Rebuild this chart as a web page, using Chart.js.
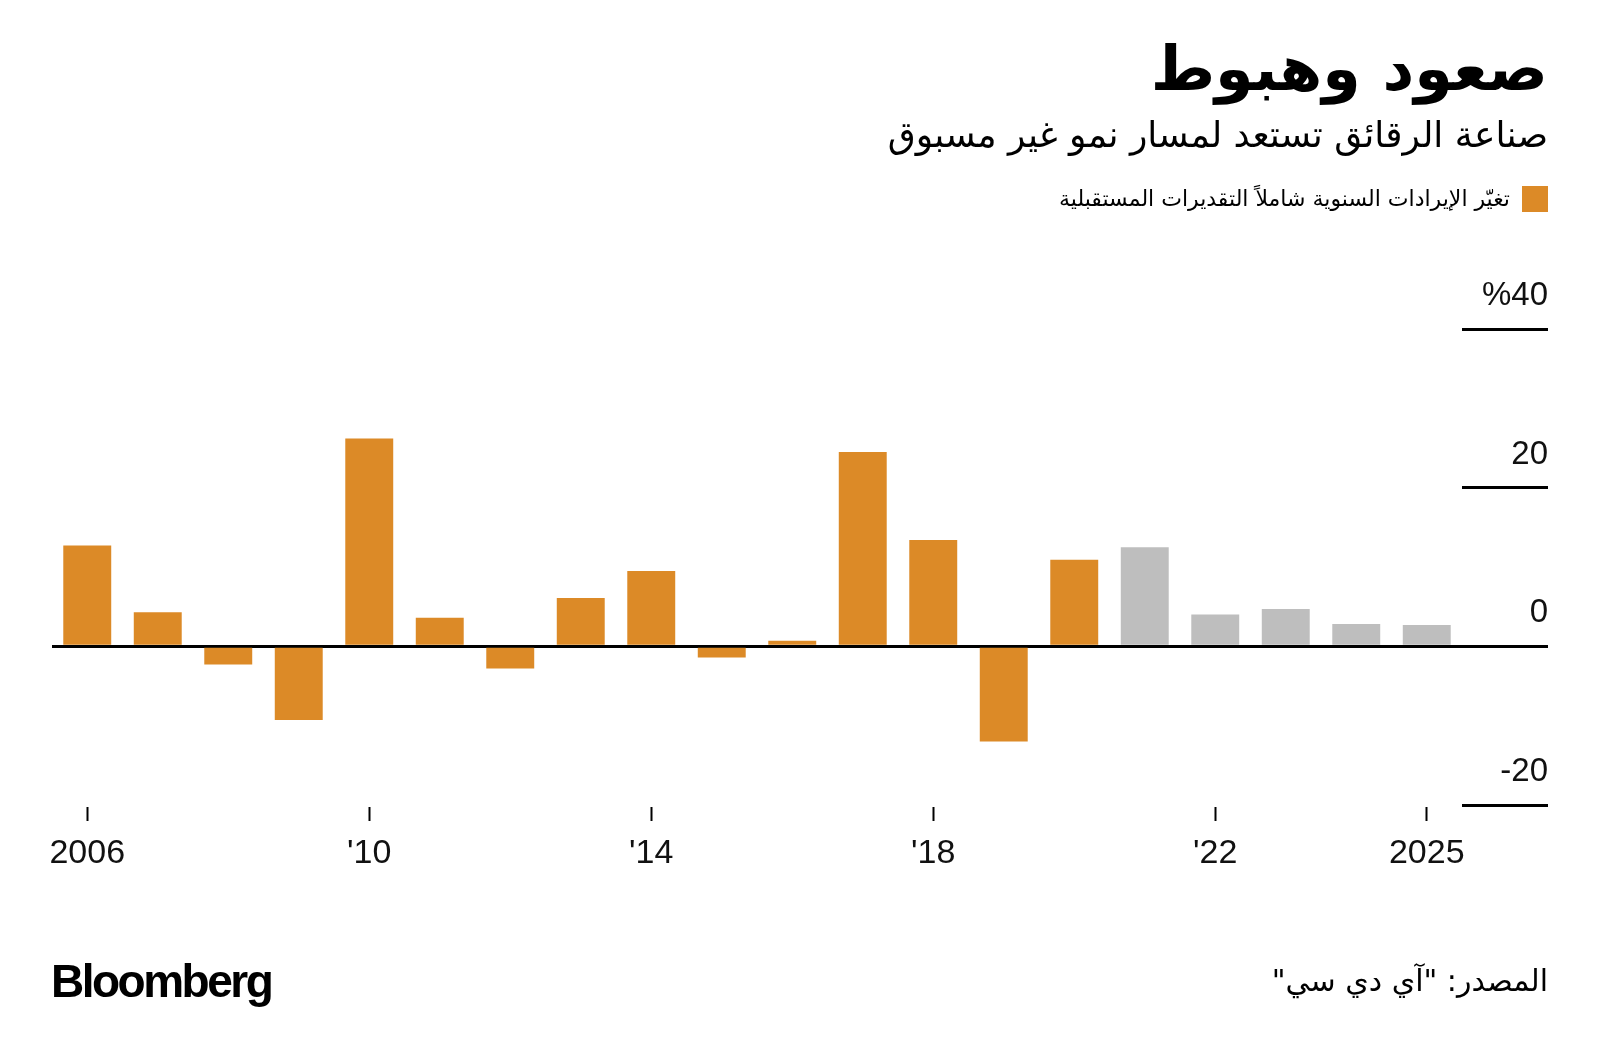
<!DOCTYPE html>
<html>
<head>
<meta charset="utf-8">
<script src="https://cdn.jsdelivr.net/npm/chart.js@4.4.1/dist/chart.umd.min.js"></script>
<style>
  body { margin: 0; background: #fff; }
  #wrap { position: relative; width: 1600px; height: 1064px; overflow: hidden; }
  #myChart { position: absolute; left: 0; top: 0; }
  .ar { position: absolute; right: 52px; direction: rtl; font-family: "DejaVu Sans", sans-serif; color: #000; line-height: 1; white-space: nowrap; }
  #titulo { top: 38px; font-size: 62px; font-weight: bold; }
  #subtitulo { top: 117px; font-size: 36px; }
  #leyenda { top: 186px; font-size: 22px; display: flex; align-items: center; }
  #leyenda span.box { display: inline-block; width: 26px; height: 26px; margin-left: 12px; }
  #fuente { top: 966px; font-size: 30px; }
  #marca { position: absolute; left: 51px; top: 958px; font-family: "Liberation Sans", Arial, sans-serif; font-weight: bold; font-size: 46px; letter-spacing: -2.5px; line-height: 1; color: #000; }
</style>
</head>
<body>
<div id="wrap">
  <canvas id="myChart" width="1600" height="1064"></canvas>
  <div id="titulo" class="ar">صعود وهبوط</div>
  <div id="subtitulo" class="ar">صناعة الرقائق تستعد لمسار نمو غير مسبوق</div>
  <div id="leyenda" class="ar"><span class="box"></span><span class="txt"></span></div>
  <div id="fuente" class="ar">المصدر: "آي دي سي"</div>
  <div id="marca">Bloomberg</div>
</div>
<script>
const years = ['2006','2007','2008','2009','2010','2011','2012','2013','2014','2015',
               '2016','2017','2018','2019','2020','2021','2022','2023','2024','2025'];
// 2006-2020
const actual = [12.7, 4.3, -2.3, -9.3, 26.2, 3.6, -2.8, 6.1, 9.5, -1.4,
                0.7, 24.5, 13.4, -12.0, 10.9];
// 2021-2025 (estimates)
const estimates = [12.5, 4.0, 4.7, 2.8, 2.7];

const xTickYears = ['2006','2010','2014','2018','2022','2025'];
const xTickText  = ['2006',"'10","'14","'18","'22",'2025'];
const yTicks = [-20, 0, 20, 40];

const legendLabel = 'تغيّر الإيرادات السنوية شاملاً التقديرات المستقبلية';
const orange = '#DC8A27';
const grey = '#BEBEBE';

const actualSeries = years.map((y, i) => i < actual.length ? actual[i] : null);
const estimateSeries = years.map((y, i) => i < actual.length ? null : estimates[i - actual.length]);

document.querySelector('#leyenda .txt').textContent = legendLabel;
document.querySelector('#leyenda .box').style.background = orange;

const ctx = document.getElementById('myChart');

new Chart(ctx, {
  type: 'bar',
  data: {
    labels: years,
    datasets: [
      {
        label: legendLabel,
        data: actualSeries,
        backgroundColor: orange,
        grouped: false,
        barPercentage: 0.68,
        categoryPercentage: 1
      },
      {
        label: 'estimates',
        data: estimateSeries,
        backgroundColor: grey,
        grouped: false,
        barPercentage: 0.68,
        categoryPercentage: 1
      }
    ]
  },
  options: {
    responsive: false,
    animation: false,
    devicePixelRatio: 1,
    layout: {
      padding: { left: 52, right: 52, top: 329, bottom: 189 }
    },
    plugins: {
      legend: { display: false },
      tooltip: { enabled: false }
    },
    scales: {
      x: {
        offset: true,
        border: { display: true, width: 4, color: 'transparent' },
        grid: {
          offset: false,
          drawOnChartArea: false,
          drawTicks: true,
          tickLength: 16,
          tickWidth: 2,
          tickColor: (c) => xTickYears.includes(years[c.index]) ? '#000' : 'transparent'
        },
        ticks: {
          autoSkip: false,
          maxRotation: 0,
          padding: 12,
          color: '#111',
          font: { family: 'Liberation Sans', size: 34 },
          callback: (value, index) => {
            const k = xTickYears.indexOf(years[index]);
            return k >= 0 ? xTickText[k] : '';
          }
        },
        afterFit: (scale) => { scale.height = 70; }
      },
      y: {
        position: 'right',
        min: -20,
        max: 40,
        z: 1,
        afterBuildTicks: (scale) => { scale.ticks = yTicks.map(v => ({ value: v })); },
        border: { display: false },
        grid: {
          drawOnChartArea: true,
          drawTicks: true,
          tickLength: 86,
          tickWidth: 3,
          tickColor: '#000',
          lineWidth: 3,
          color: (c) => c.tick && c.tick.value === 0 ? '#000' : 'transparent'
        },
        ticks: {
          crossAlign: 'far',
          labelOffset: -33,
          padding: 0,
          color: '#111',
          font: { family: 'Liberation Sans', size: 33 },
          callback: (v) => v === 40 ? '%40' : String(v)
        },
        afterFit: (scale) => { scale.width = 86; }
      }
    }
  }
});
</script>
</body>
</html>
